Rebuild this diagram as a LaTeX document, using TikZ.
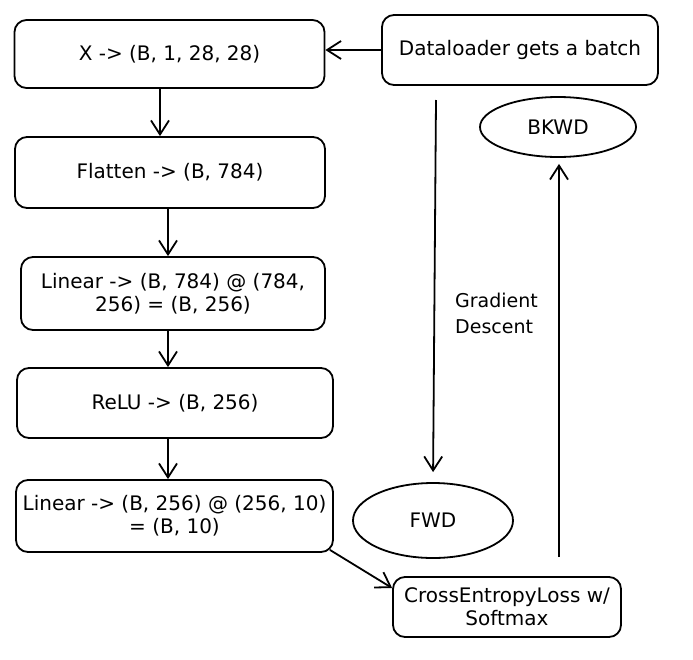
\documentclass[tikz,border=0pt]{standalone}
\usepackage{fontspec}
\setmainfont{DejaVu Sans}
\usetikzlibrary{arrows.meta,shapes.geometric}
\begin{document}
\begin{tikzpicture}[x=1pt,y=-1pt,
  every node/.style={font=\fontsize{20}{23}\selectfont, align=center},
  box/.style={draw, line width=1.8pt, rounded corners=12pt, inner sep=1pt},
  oval/.style={draw, ellipse, line width=1.8pt, inner sep=0pt},
  arr/.style={line width=1.8pt, -{Straight Barb[length=14pt,width=18pt,line width=1.8pt]}}]
\useasboundingbox (0,0) rectangle (693,659);
\node[box, minimum width=310pt, minimum height=68pt] (b1) at (169.5,54) {X -> (B, 1, 28, 28)};
\node[box, minimum width=310pt, minimum height=71pt] (b2) at (170,172.5) {Flatten -> (B, 784)};
\node[box, minimum width=304pt, minimum height=73pt] (b3) at (173,293.5) {Linear -> (B, 784) @ (784,\\ 256) = (B, 256)};
\node[box, minimum width=316pt, minimum height=70pt] (b4) at (175,403) {ReLU -> (B, 256)};
\node[box, minimum width=317pt, minimum height=72pt] (b5) at (174.5,516) {Linear -> (B, 256) @ (256, 10)\\ = (B, 10)};
\node[box, minimum width=228pt, minimum height=60pt] (ce) at (507,607) {CrossEntropyLoss w/\\ Softmax};
\node[box, minimum width=276pt, minimum height=70pt] (dl) at (520,50) {Dataloader gets a batch};
\node[oval, minimum width=160pt, minimum height=75pt] (fwd) at (433,520.5) {FWD};
\node[oval, minimum width=156pt, minimum height=60pt] (bkwd) at (558,127) {BKWD};
\node[anchor=west, align=left, inner sep=0pt, font=\fontsize{19}{26}\selectfont] (gd) at (455,313) {Gradient\\Descent};
\coordinate (fstart) at (436,100);
\coordinate (c1) at (160,0);
\coordinate (c2) at (168,0);
\coordinate (c5) at (559,0);
\coordinate (cdl) at (0,50);
\draw[arr] (dl.west |- cdl) -- (b1.east |- cdl);
\draw[arr] (b1.south -| c1) -- (b2.north -| c1);
\draw[arr] (b2.south -| c2) -- (b3.north -| c2);
\draw[arr] (b3.south -| c2) -- (b4.north -| c2);
\draw[arr] (b4.south -| c2) -- (b5.north -| c2);
\draw[arr] ([xshift=-4pt,yshift=3pt]b5.south east) -- ([yshift=19pt]ce.west);
\draw[arr, shorten >=10pt] (fstart) -- (fwd.north);
\draw[arr, shorten <=19pt, shorten >=6pt] (ce.north -| c5) -- (bkwd.south -| c5);
\end{tikzpicture}
\end{document}
